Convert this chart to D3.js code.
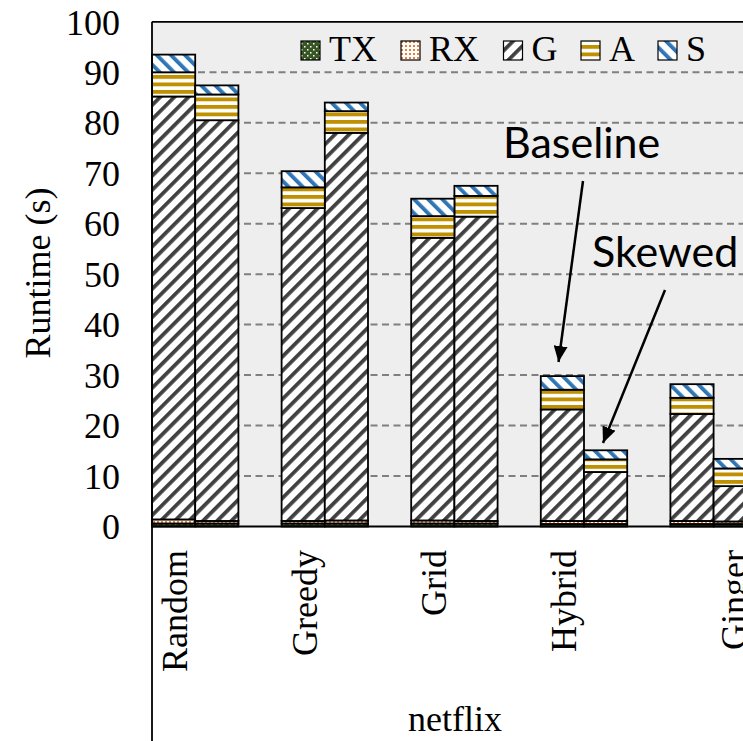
<!DOCTYPE html>
<html>
<head>
<meta charset="utf-8">
<script src="https://cdn.jsdelivr.net/npm/d3@7/dist/d3.min.js"></script>
<style>
  html, body { margin: 0; padding: 0; background: #ffffff; overflow: hidden; }
  svg { display: block; }
</style>
</head>
<body>
<svg id="chart" width="743" height="741"></svg>
<script>
// Runtime breakdown per partitioning strategy (netflix), baseline vs. skewed input
const categories = ["Random", "Greedy", "Grid", "Hybrid", "Ginger"];
const variants = ["Baseline", "Skewed"];
const seriesKeys = ["TX", "RX", "G", "A", "S"];
const yTicks = [0, 10, 20, 30, 40, 50, 60, 70, 80, 90, 100];
const groupLabel = "netflix";
const yTitle = "Runtime (s)";

// Baseline runs
const txBase = [0.6, 0.6, 0.6, 0.5, 0.5];
const rxBase = [0.8, 0.5, 0.6, 0.6, 0.6];
const gBase  = [83.8, 62.0, 56.0, 22.1, 21.2];
const aBase  = [4.8, 4.1, 4.3, 3.9, 3.2];
const sBase  = [3.5, 3.2, 3.45, 2.7, 2.7];

// Skewed runs
const txSkew = [0.6, 0.6, 0.6, 0.5, 0.5];
const rxSkew = [0.5, 0.6, 0.5, 0.6, 0.5];
const gSkew  = [79.4, 76.8, 60.3, 9.7, 7.0];
const aSkew  = [5.1, 4.3, 4.1, 2.5, 3.5];
const sSkew  = [1.8, 1.7, 2.0, 1.8, 1.9];

const W = 743, H = 741;
const serif = "'Liberation Serif', 'Times New Roman', serif";
const sans = "Lato, 'Open Sans', sans-serif";

const svg = d3.select("#chart");

// rows for stacking: one row per (category, variant)
const rows = [];
categories.forEach((c, i) => {
  rows.push({ cat: c, variant: "Baseline", TX: txBase[i], RX: rxBase[i], G: gBase[i], A: aBase[i], S: sBase[i] });
  rows.push({ cat: c, variant: "Skewed",   TX: txSkew[i], RX: rxSkew[i], G: gSkew[i], A: aSkew[i], S: sSkew[i] });
});
const stacked = d3.stack().keys(seriesKeys)(rows);

// scales
const plotLeft = 152;
const y = d3.scaleLinear().domain([0, 100]).range([526.5, 21.8]);
const x = d3.scaleBand().domain(categories)
  .range([130.4, 130.4 + 648])
  .paddingInner(1 / 3).paddingOuter(1 / 6);
const xSub = d3.scaleBand().domain(variants).range([0, x.bandwidth()]);

// fill patterns
const defs = svg.append("defs");
function stripePattern(id, color, angle, size, thick) {
  const p = defs.append("pattern").attr("id", id)
    .attr("patternUnits", "userSpaceOnUse")
    .attr("width", size).attr("height", size)
    .attr("patternTransform", `rotate(${angle})`);
  p.append("rect").attr("width", size).attr("height", size).attr("fill", "#ffffff");
  p.append("rect").attr("x", 0).attr("y", 0).attr("width", thick).attr("height", size).attr("fill", color);
}
stripePattern("pat-G", "#404040", 45, 10, 3.8);
stripePattern("pat-S", "#2E75B6", -45, 10, 3.8);

const pA = defs.append("pattern").attr("id", "pat-A")
  .attr("patternUnits", "userSpaceOnUse").attr("width", 8).attr("height", 7.5);
pA.append("rect").attr("width", 8).attr("height", 7.5).attr("fill", "#ffffff");
pA.append("rect").attr("y", 0).attr("width", 8).attr("height", 3.8).attr("fill", "#BF9000");

const pTX = defs.append("pattern").attr("id", "pat-TX")
  .attr("patternUnits", "userSpaceOnUse").attr("width", 6).attr("height", 6);
pTX.append("rect").attr("width", 6).attr("height", 6).attr("fill", "#375623");
pTX.append("rect").attr("x", 1).attr("y", 1).attr("width", 1.5).attr("height", 1.5).attr("fill", "#ffffff");
pTX.append("rect").attr("x", 4).attr("y", 4).attr("width", 1.5).attr("height", 1.5).attr("fill", "#ffffff");

const pRX = defs.append("pattern").attr("id", "pat-RX")
  .attr("patternUnits", "userSpaceOnUse").attr("width", 4).attr("height", 4);
pRX.append("rect").attr("width", 4).attr("height", 4).attr("fill", "#ffffff");
pRX.append("rect").attr("x", 1).attr("y", 1).attr("width", 2).attr("height", 2).attr("fill", "#ED7D31");

const fillFor = k => `url(#pat-${k})`;

// arrow marker
defs.append("marker").attr("id", "arrowhead")
  .attr("markerUnits", "userSpaceOnUse")
  .attr("viewBox", "0 0 16 14").attr("refX", 16).attr("refY", 7)
  .attr("markerWidth", 16).attr("markerHeight", 14)
  .attr("orient", "auto")
  .append("path").attr("d", "M0,0 L16,7 L0,14 Z").attr("fill", "#000");

// plot area background
svg.append("rect")
  .attr("x", plotLeft).attr("y", y(100))
  .attr("width", W - plotLeft + 60).attr("height", y(0) - y(100))
  .attr("fill", "#EEEEEE");

// dashed gridlines
svg.append("g").selectAll("line")
  .data(yTicks.filter(t => t > 0 && t < 100))
  .join("line")
  .attr("x1", plotLeft).attr("x2", W + 10)
  .attr("y1", d => y(d)).attr("y2", d => y(d))
  .attr("stroke", "#7F7F7F").attr("stroke-width", 2)
  .attr("stroke-dasharray", "7,4.5");

// stacked bars
const barLayer = svg.append("g");
stacked.forEach(layer => {
  barLayer.append("g").selectAll("rect")
    .data(layer)
    .join("rect")
    .attr("x", d => x(d.data.cat) + xSub(d.data.variant))
    .attr("width", xSub.bandwidth())
    .attr("y", d => y(d[1]))
    .attr("height", d => y(d[0]) - y(d[1]))
    .attr("fill", fillFor(layer.key))
    .attr("stroke", "#000").attr("stroke-width", 1.8);
});

// frame lines: top border, left axis, bottom axis
svg.append("line").attr("x1", plotLeft).attr("x2", W + 10)
  .attr("y1", y(100)).attr("y2", y(100)).attr("stroke", "#000").attr("stroke-width", 1.8);
svg.append("line").attr("x1", plotLeft).attr("x2", W + 10)
  .attr("y1", y(0)).attr("y2", y(0)).attr("stroke", "#000").attr("stroke-width", 1.8);
svg.append("line").attr("x1", plotLeft).attr("x2", plotLeft)
  .attr("y1", y(100)).attr("y2", H).attr("stroke", "#000").attr("stroke-width", 1.8);

// y axis labels
const yAxis = svg.append("g")
  .attr("transform", `translate(${plotLeft},0)`)
  .call(d3.axisLeft(y).tickValues(yTicks).tickSize(0).tickPadding(32));
yAxis.select(".domain").remove();
yAxis.selectAll("text")
  .attr("font-family", serif).attr("font-size", 36).attr("fill", "#000")
  .attr("dy", "0.34em");

svg.append("text")
  .attr("transform", `translate(50,273) rotate(-90)`)
  .attr("text-anchor", "middle")
  .attr("font-family", serif).attr("font-size", 36).attr("fill", "#000")
  .text(yTitle);

// category labels (the last one sits further right, under its skewed bar)
const labelShift = [0, 0, 0, 0, 40];
svg.append("g").selectAll("text")
  .data(categories)
  .join("text")
  .attr("transform", (d, i) => `translate(${x(d) + x.bandwidth() / 2 - 8 + labelShift[i]},550) rotate(-90)`)
  .attr("text-anchor", "end")
  .attr("font-family", serif).attr("font-size", 36).attr("fill", "#000")
  .text(d => d);

svg.append("text")
  .attr("x", 455).attr("y", 731)
  .attr("text-anchor", "middle")
  .attr("font-family", serif).attr("font-size", 36).attr("fill", "#000")
  .text(groupLabel);

// legend
const legendX = [301, 401, 503.5, 581, 658];
const legend = svg.append("g");
seriesKeys.forEach((k, i) => {
  legend.append("rect")
    .attr("x", legendX[i]).attr("y", 41).attr("width", 19).attr("height", 19)
    .attr("fill", fillFor(k)).attr("stroke", "#000").attr("stroke-width", 1.2);
  legend.append("text")
    .attr("x", legendX[i] + 28).attr("y", 61)
    .attr("font-family", serif).attr("font-size", 36).attr("fill", "#000")
    .text(k);
});

// annotations
const notes = svg.append("g");
notes.append("text").attr("x", 503).attr("y", 158)
  .attr("font-family", sans).attr("font-size", 43).attr("fill", "#000").text("Baseline");
notes.append("text").attr("x", 592).attr("y", 267)
  .attr("font-family", sans).attr("font-size", 43).attr("fill", "#000").text("Skewed");
notes.append("line")
  .attr("x1", 583).attr("y1", 181).attr("x2", 558.5).attr("y2", 362)
  .attr("stroke", "#000").attr("stroke-width", 2.5).attr("marker-end", "url(#arrowhead)");
notes.append("line")
  .attr("x1", 665).attr("y1", 290).attr("x2", 603).attr("y2", 443)
  .attr("stroke", "#000").attr("stroke-width", 2.5).attr("marker-end", "url(#arrowhead)");
</script>
</body>
</html>
